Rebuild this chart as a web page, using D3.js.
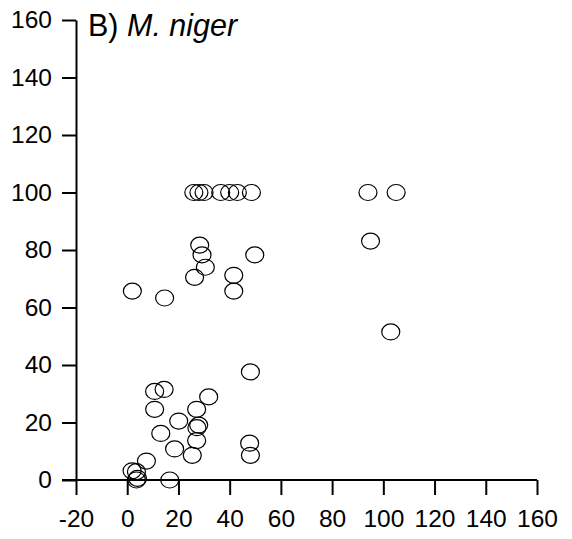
<!DOCTYPE html>
<html>
<head>
<meta charset="utf-8">
<script src="https://cdn.jsdelivr.net/npm/d3@7"></script>
<style>
  html, body { margin: 0; padding: 0; background: #fff; }
  svg { display: block; }
  text { font-family: "Liberation Sans", Arial, sans-serif; fill: #000; }
</style>
</head>
<body>
<svg id="chart" width="572" height="539"></svg>
<script>
// Data (x, y pairs)
const xValues = [26, 28, 30, 36.5, 40, 43, 48.5, 94, 105,
                 28.3, 29.2, 30.5, 26.3, 41.6, 41.6, 49.8, 2, 14.6, 95, 102.9,
                 48.1, 10.7, 14.4, 10.7, 31.8, 27.1, 20.1, 27.9, 27.2, 13.1,
                 27.1, 18.5, 25.4, 47.8, 48.1, 7.5, 1.9, 3.6, 3.6, 4, 16.6];
const yValues = [100, 100, 100, 100, 100, 100, 100, 100, 100,
                 81.7, 78.3, 74, 70.5, 71.2, 65.7, 78.3, 65.7, 63.3, 83.1, 51.5,
                 37.6, 30.8, 31.5, 24.6, 28.9, 24.6, 20.5, 19.1, 18.2, 16.2,
                 13.7, 10.8, 8.6, 12.8, 8.6, 6.6, 3.2, 2.9, 0, 0.6, 0];
const xTicks = [-20, 0, 20, 40, 60, 80, 100, 120, 140, 160];
const yTicks = [0, 20, 40, 60, 80, 100, 120, 140, 160];
const titlePlain = "B) ";
const titleItalic = "M. niger";

const svg = d3.select("#chart");
const x = d3.scaleLinear().domain([-20, 160]).range([76, 537]);
const y = d3.scaleLinear().domain([0, 160]).range([480, 20]);
const fmt = d => String(d);

const xAxis = svg.append("g")
  .attr("transform", `translate(0,${y(0)})`)
  .call(d3.axisBottom(x).tickValues(xTicks).tickSize(15).tickSizeOuter(0).tickPadding(15).tickFormat(fmt));
const yAxis = svg.append("g")
  .attr("transform", `translate(${x(-20)},0)`)
  .call(d3.axisLeft(y).tickValues(yTicks).tickSize(14).tickSizeOuter(0).tickPadding(10).tickFormat(fmt));

[xAxis, yAxis].forEach(g => {
  g.select(".domain").attr("stroke", "#000").attr("stroke-width", 2);
  g.selectAll(".tick line").attr("stroke", "#000").attr("stroke-width", 2);
  g.selectAll(".tick text")
    .attr("font-family", "Liberation Sans, Arial, sans-serif")
    .attr("font-size", 24.5)
    .attr("fill", "#000");
});
// extend x-axis line to the left to meet y tick at 0
xAxis.select(".domain").attr("d", `M${x(-20) - 14},0H${x(160)}`);

const title = svg.append("text")
  .attr("x", 88).attr("y", 36)
  .attr("font-size", 30.5);
title.append("tspan").text(titlePlain);
title.append("tspan").attr("font-style", "italic").text(titleItalic);

const pts = xValues.map((v, i) => ({ x: v, y: yValues[i] }));
svg.append("g").selectAll("ellipse").data(pts).join("ellipse")
  .attr("cx", d => x(d.x))
  .attr("cy", d => y(d.y))
  .attr("rx", 9)
  .attr("ry", 8)
  .attr("fill", "none")
  .attr("stroke", "#000")
  .attr("stroke-width", 1.2);
</script>
</body>
</html>
